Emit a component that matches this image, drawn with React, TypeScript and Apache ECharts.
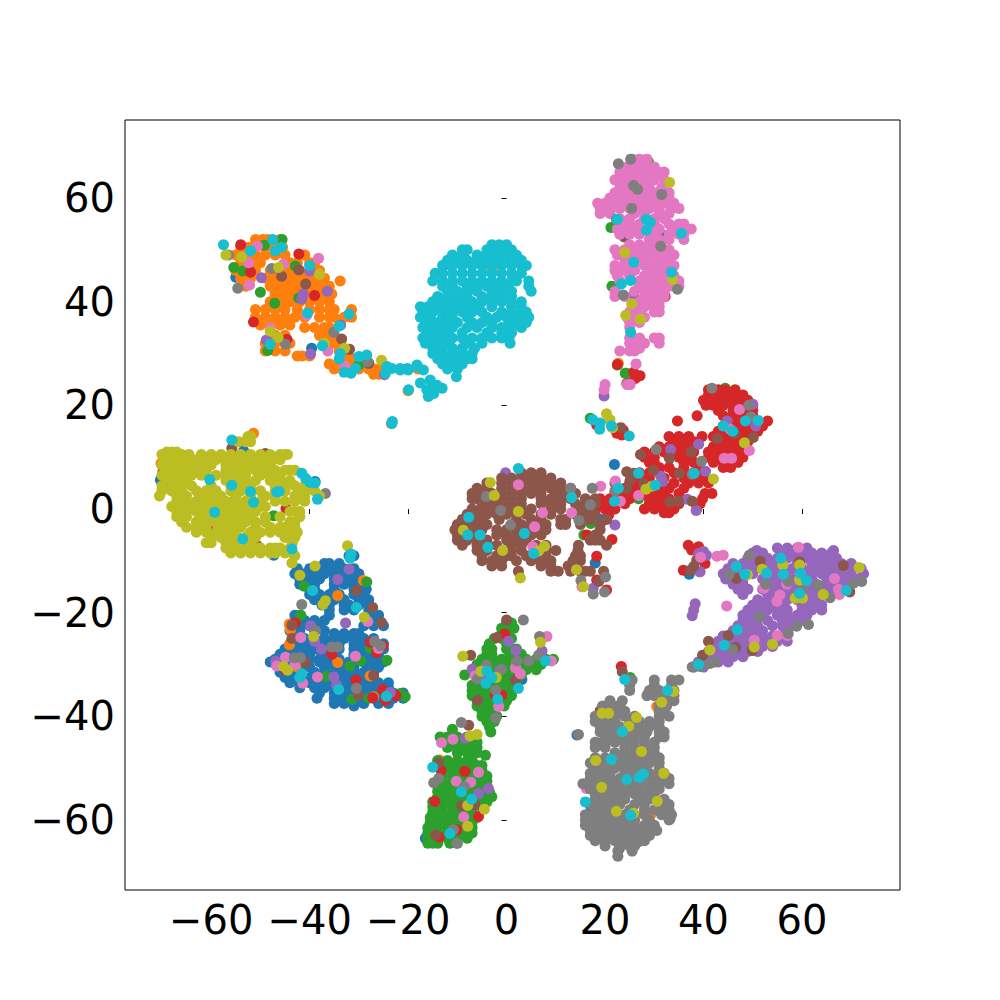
import React, { useEffect, useRef } from "react";
import * as echarts from "echarts";

type Rows = [number, number[]][];
type Pts = [number, number][];

const tickValues = [-60, -40, -20, 0, 20, 40, 60];
const colors = ["#1f77b4", "#ff7f0e", "#2ca02c", "#d62728", "#9467bd", "#8c564b", "#e377c2", "#7f7f7f", "#bcbd22", "#17becf"];

const blueRows: Rows = [
  [-9, [-32, -31]], [-10.5, [-37, -36, -34]], [-11.5, [-42.5, -40, -38, -36, -34, -33, -31]], [-12.5, [-43, -41, -39, -37, -35, -33, -31, -30]],
  [-13.5, [-42, -40, -38, -35, -32, -30]], [-14.5, [-42, -41, -39, -35, -33, -31, -30]], [-15.5, [-40, -39, -35, -31, -29, -28.5]],
  [-16.5, [-40, -38, -36, -34, -31, -29]], [-17.5, [-39, -37, -35, -33, -30, -28]], [-18.5, [-37.5, -36, -33, -32, -30, -28]],
  [-19.5, [-36, -33, -31, -28]], [-20.5, [-43, -42, -36, -28, -26]], [-21.5, [-43, -41, -39, -37, -28, -27, -26]], [-22.5, [-44, -42, -40, -38, -29, -27, -25]],
  [-23.5, [-44, -42, -39, -37]], [-24, [-35, -33, -31, -30]], [-25, [-43, -41, -39, -37, -35, -33, -31, -29, -27]],
  [-26, [-44, -42, -40, -38, -36, -34, -31, -29, -27, -25]], [-27, [-45, -43, -41, -39, -37, -34, -31, -29, -27, -25]],
  [-28, [-46, -44, -42, -40, -37.5, -31, -29, -27, -26]], [-29, [-47, -46, -44, -42, -40, -38, -36, -34, -31, -29, -27]],
  [-29.5, [-48, -46, -43, -41, -38, -36, -34, -32, -29, -27, -25]], [-30.5, [-46, -44, -42, -40, -37, -35, -33, -31, -28, -26]],
  [-31.5, [-46, -44, -42, -39, -37, -35, -33, -31, -29, -27]], [-32.5, [-45, -43, -40, -38, -36, -34, -32, -30, -28]],
  [-33.5, [-44, -42, -40, -38, -36, -34, -32, -30, -28, -26, -24]], [-34.5, [-42, -39, -37, -35, -33, -31, -29, -27, -24]],
  [-35.5, [-38, -35, -33, -31, -29, -27, -25, -23, -21]], [-36.5, [-38.5, -35, -33, -31, -29, -27, -25, -23, -21]],
  [-37.5, [-35, -33, -31, -29, -26, -24]], [-38, [-31]],
];
const blueExtra: Pts = [[-39.6, 31], [-55, 44.7], [-12.8, 47], [-3, 46.5], [32.2, 52.7], [21.9, 8.6], [18, -10.4], [37.1, -12.6], [19.2, -2], [3.1, -32.9], [-16.5, -63.5], [22.9, -65.5], [14.3, -43.6], [17.1, -57.4], [33.2, -59.7], [18.3, -53.6], [22.4, -38.1], [-53.4, 11.2], [-38.9, 5.3], [-70.3, 5.6], [-47.3, -8.9]];

const orangeRows: Rows = [
  [52, [-51, -49.5, -48.5, -46]], [50.5, [-54, -52.5, -51, -49, -47, -45.5]], [49, [-55, -53, -51, -49, -47, -45, -41]],
  [47.5, [-54, -52, -50, -44, -42.5, -40, -39]], [46, [-55, -53, -51, -48, -46, -44, -42, -40, -38]],
  [44.5, [-54, -52, -49, -47, -45, -43, -41, -39, -37]], [44, [-33.8]], [43, [-53, -48, -46, -44, -42, -40, -38, -36]],
  [41.5, [-47, -45, -43, -41, -39, -37, -35.5]], [40, [-48, -46, -44, -42, -40, -38, -36]], [38.5, [-51, -49, -47, -45, -42.5, -40, -38, -36, -35, -31.5]],
  [37, [-51, -49, -47, -45, -43, -41, -38, -36, -35, -33, -31.5]], [35.5, [-50, -48, -46, -44]], [35, [-41, -39, -37, -36]],
  [33.5, [-47, -45, -38, -36.5, -35]], [32, [-49, -47, -45, -44, -36, -35, -34]], [30.5, [-49, -47, -45, -34, -33]],
  [29.5, [-42.5, -41.5, -40]], [29, [-32, -31, -30, -29]], [28, [-36, -34, -31, -29, -28]], [27, [-35, -33, -30, -28, -27, -26, -20, -18]], [26, [-27, -26]],
];
const orangeExtra: Pts = [[-20, 22.8], [-23.4, 16.5], [-29.1, -13.8], [-34.3, -16.7], [-44.1, -22.2], [-43.9, -23.3], [-44.1, -26.2], [-34.3, -29.6], [-42.8, -30.4], [-27.7, -32.2], [-27, -36.2], [-13.6, -48.4], [30.5, -38.1], [22, -41], [29.5, -58.7], [46.4, -24.8], [30.5, 1.7], [22.7, 28.1], [-3, 46], [-51.4, 14.6], [-70.2, 8.8]];

const greenRows: Rows = [
  [-22, [0, 1]], [-23, [-1, 0.5, 1.5]], [-24, [-1, 0]], [-25, [-2.5, -1, 1]], [-26, [-3.5, 0]], [-27, [-4, -3, 0, 1, 2]], [-28, [-4, -3, 1, 2, 3]],
  [-29, [-5, -3, -1, 0, 3, 4, 6, 8, 9.5]], [-30, [-6, -4, -2, 0, 2, 4, 5, 7]], [-31, [-6, -4, -2, 0, 2, 4, 6]], [-32, [-8.5, -6, -4, -2, 0, 2, 3]],
  [-33, [-6, -4, -2, 0, 2]], [-34, [-7, -5, -3, -1, 1]], [-35, [-7, -5, -3, -1, 1]], [-36, [-7, -5, -3, -1, 1]], [-37, [-6, -4, -2, 0]], [-38, [-6, -4, -2, -0.5]],
  [-39, [-5, -3]], [-40, [-5, -3, -2]], [-41, [-4, -2.5]], [-42, [-3.5]], [-43, [-3.2]],
  [-42.5, [-11]], [-44, [-13.5, -12, -10, -8, -7]], [-45, [-13, -11, -9, -7, -6]], [-46, [-12, -10, -8, -6]], [-47, [-10, -8, -6]], [-47.5, [-4.3]],
  [-48.5, [-14, -12, -10, -8, -7]], [-49.5, [-14, -12, -10, -8, -6, -5]], [-50.5, [-13, -11, -9, -7, -5]], [-51.5, [-13, -11, -9, -7, -5, -4]],
  [-52.5, [-13, -11, -9, -7, -5, -4]], [-53.5, [-14, -12, -10, -8, -6, -4]], [-54.5, [-14, -12, -10, -8, -6, -4, -3.5]], [-55.5, [-14, -12, -10, -8, -6, -4, -3]],
  [-56.5, [-15, -13, -11, -9, -7, -5, -4]], [-57.5, [-15, -13, -11, -9, -7, -5]], [-58.5, [-15, -13, -11, -9, -7]], [-59.5, [-15.5, -14, -12, -10, -8, -6]],
  [-60.5, [-15.5, -14, -12, -10, -8, -7]], [-61.5, [-16, -14, -12, -10, -8, -7]], [-62.5, [-16, -14, -12, -10, -8, -7]], [-63.5, [-16, -14, -12, -10, -8]], [-64.5, [-16, -15, -14, -11.5, -10]],
];
const greenExtra: Pts = [[-45.6, 52], [-49.2, 50.9], [-55.4, 46.6], [-53.6, 45.9], [-42.9, 46.9], [-50, 41.8], [-47.1, 39.7], [-42.2, 40.7], [-48.5, 30.6], [-30, 27.8], [21.4, 43], [24.3, 26.2], [22.5, 27.8], [28.8, 67], [27.1, 37.9], [21.2, 54.3], [44.4, 23.3], [37.6, 9.4], [17, 17.5], [15.7, -5], [17.1, -2.8], [26.8, 2], [24.1, 26.2], [50.9, -11.4], [61.6, -14], [25.1, -32.5], [39, -29.5], [-47.3, -1.3], [-52.6, -5.3], [-41.1, -14.9], [-28.4, -14.1], [-41.8, -20.5], [-27.7, -26.9], [-24.3, -29.2], [-31.8, -30.3], [-29.6, -29.3], [-36.6, -32.3], [-31.4, -36.7], [-28, -36.5], [-21.6, -35.6], [-20.6, -36.2]];

const redRows: Rows = [
  [23, [41, 43, 44.4, 46.4]], [22, [41, 43, 45, 47, 48]], [21, [40, 42, 44, 46, 48, 49]], [20, [40.5, 42, 44, 46, 48, 50]], [19, [43, 46, 48, 50]], [18, [44, 46, 48, 50, 38.7]],
  [17, [34.7, 45, 47, 49, 51, 53]], [16, [44, 46, 48, 50, 52]], [15, [43, 45, 47, 49, 51]], [14, [33, 35, 37, 39.7, 42, 44, 46, 48, 50]], [13, [34, 36, 38, 43, 45, 47, 49]],
  [12, [31, 33, 35, 37, 38, 42, 44, 46, 48]], [11, [28, 30, 32, 34, 36, 38, 41, 43, 45, 47]], [10, [28, 30, 33, 35, 37, 41, 43, 45, 47, 48]], [9, [29, 30, 36, 38, 42, 44, 46, 47]],
  [8, [31, 33, 36, 39, 44, 45.5]], [7, [27, 29, 31, 34, 36, 38, 40]], [6, [27, 29, 32, 36, 38, 40]], [5, [25, 27, 29, 34, 37, 39, 41]], [4, [24, 26, 28, 31, 33, 36]],
  [3, [22, 24, 26, 28, 30, 32, 35, 40.3, 41.7]], [2, [19, 21, 23, 25, 29, 31, 33, 39.8]], [1, [17, 19, 21, 24, 29, 31, 33, 35, 39.3]], [0, [16, 18, 20, 22, 28, 30, 32, 34, 38.6]], [-0.7, [32, 33]],
];
const redExtra: Pts = [[18.3, 16.2], [22.4, 14.6], [23.4, 14.3], [23.7, 15.2], [20.7, -1.2], [21.4, -5.9], [16.3, -5], [18.3, -9.1], [18.3, -13.7], [20.3, -15.6], [17.3, -0.9], [36.9, -7], [39, -7.3], [35.9, -11.8], [37.6, -7.9], [38.6, -7.6], [40.3, -10.5], [26.4, 25.5], [25.8, 26.4], [27.1, 25.7], [26.1, 25.2], [22.5, 27.9], [32.2, 41], [-54, 51], [-42.2, 49.2], [-52, 45.7], [-39, 41.2], [-51.4, 36.1], [-44.6, 32.7], [-0.4, -24.1], [-2.3, -35.9], [-1, -35.9], [-8.5, -50.6], [-13.3, -50.5], [-14.6, -56.4], [-5.7, -59.3], [-10.1, -61.9], [-13.7, -63.3], [23.3, -30.4], [28.8, -35.6], [26.8, -51.6], [31.3, -57.8], [-44.8, 0.1], [-60.5, -4.1], [-54.8, 7], [-42.9, -22], [-35.5, -28], [-27.7, -25.7], [-26.4, -27.7], [-25.1, -26.4], [-30.6, -33], [-25.2, -34.8], [-27.2, -36.4], [-22.5, -36], [-24.6, -37], [-45, -31]];

const purpleRows: Rows = [
  [-7.5, [55, 57, 59, 61]], [-8, [50.8, 66.4]], [-8.5, [50, 52, 56, 58, 60, 62, 64, 66]], [-9.5, [49, 51, 53, 55, 57, 59, 61, 63, 65, 67]],
  [-10.5, [46, 48, 50, 52, 54, 56, 59, 62, 64, 66, 68, 70]], [-11.5, [45, 47, 49, 52, 54, 56, 58, 60, 62, 64, 66, 68, 70, 72]],
  [-12.5, [44, 46, 48, 50, 53, 55, 57, 60, 62, 64, 66, 68, 70, 72.5]], [-13.5, [44.5, 46, 48, 52, 54, 56, 58, 60, 62, 65, 67, 69, 71]],
  [-14.5, [46, 48, 53, 55, 57, 59, 61, 63, 65, 67, 69]], [-15.5, [47, 49, 52, 54, 56, 58, 60, 62, 64, 66]], [-16.5, [48, 53, 55, 57, 59, 61, 63, 65]],
  [-17.5, [51, 53, 55, 57, 59, 61, 63]], [-18.5, [50, 52, 54, 56, 60, 62, 64]], [-19.5, [49, 51, 53, 55, 57, 60, 62, 64]], [-20.5, [48, 50, 52, 55, 57, 59, 61]],
  [-21.5, [48, 50, 53, 56, 58, 60]], [-22.5, [47, 49, 51, 54, 56, 58]], [-23.5, [46, 48, 50, 52]], [-24.5, [44, 46, 48, 50, 52, 54, 56]],
  [-25.5, [43, 45, 47, 49, 51, 53, 55, 57]], [-26.5, [42, 44, 46, 48, 50, 52, 54]], [-27.5, [41, 43, 45, 47, 49, 51]], [-28.5, [40, 42, 44, 46, 48]],
  [-29.5, [39, 41, 43, 45]], [-30.5, [38, 40]],
];
const purpleExtra: Pts = [[38.3, -18.3], [38, -19.5], [37.7, -20.6], [39, -8.6], [40.6, -8.9], [39.3, -12.1], [-49.8, 44.6], [-40, 45.9], [-36.4, 42], [-41.3, 41.5], [-41.6, 40.5], [-48.8, 32.6], [-33.7, 35.5], [-39.8, 29.9], [-24.8, 25.9], [25.8, 41.3], [19.8, 21.8], [-0.2, 7], [39, 12.5], [33.3, 11.5], [31.3, 6.3], [31.7, 5.3], [40.4, 7.3], [36.7, 1.9], [38.5, -0.3], [50, 20.2], [44.8, 17], [50.6, 16], [22, -3.1], [17.6, -15.3], [39.2, -12.1], [40, -8.2], [0.4, -25.5], [1.9, -27.3], [-7, -30.9], [7.2, -27.4], [-1.4, -31.1], [-4.3, -33], [-8.4, -44.2], [-5.7, -54.9], [-3.7, -53.9], [21.4, -62.9], [26.8, -64.2], [-32, -11.6], [-34.3, -13.6], [-32.7, -22], [-39.8, -22.5], [-39, -25.5], [-37.6, -27], [-46.9, -29.3], [-35.1, -32.4], [-34.5, -34], [-23.6, -35.4]];

const brownRows: Rows = [
  [7, [3, 5, 7]], [6, [-1, 1, 3, 5, 7, 9]], [5, [-4, -1, 1, 3, 5, 7, 9, 11]], [4, [-6, -4, -1, 1, 3, 5, 7, 9, 11, 13]], [3, [-7, -5, -3, -1, 1, 3, 5, 7, 10, 12, 14]],
  [2, [-7, -6, -3, -1, 1, 3, 7, 9, 11, 13, 16, 18]], [1, [-5, -3, -1, 1, 3, 7, 9, 11, 14, 16, 18]], [0, [-7, -5, -3, -1, 1, 3, 5, 9, 11, 15, 17]],
  [-1, [-8, -6, -4, -2, 0, 2, 4, 7, 9, 14, 16, 18]], [-2, [-9, -7, -5, -1.5, 2, 5, 7, 11, 12, 15, 17, 20.3]], [-3, [-10, -8, -6, -4, 1, 3, 5, 7, 8, 11, 12, 15, 19]],
  [-4, [-10.5, -9, -7, -5, -2, 0, 2, 4, 6, 8, 19]], [-5, [-10, -8, -6, -2, 0, 2, 5, 7, 18]], [-6, [-10, -8, -6, -4, 0, 2, 4, 17, 18, 19]],
  [-7, [-9, -6, -4, -2, 1, 3, 6, 8, 14.6, 20.3]], [-8, [-6, -4, -1, 1, 3, 6, 8, 10, 14.5]], [-9, [-5, -2, 0, 1, 4, 6, 8, 14, 15]], [-10, [-5, -3, -1, 2, 5, 7, 9, 13.5, 15]],
  [-11, [-3, -1, 7, 9, 12.5, 14]], [-12, [9, 10.5, 13, 15, 16, 17, 2.4, 19.7]], [-14, [18.7]],
];
const brownExtra: Pts = [[27.2, 10.5], [33.1, 9.8], [37.5, 11], [29.8, 7.5], [35.1, 6.9], [24.4, 7.2], [25.8, 6.9], [25.1, 5.6], [22, 5], [24.4, 4], [27.8, 4.9], [33.2, 1.4], [34.9, 1.5], [37.7, 1.5], [42.8, 13.6], [46.4, 14.6], [50.1, 13.8], [23.2, 15.7], [24.7, 24.2], [38, -11.1], [38.6, -9.9], [37.3, -11.8], [24.4, 24.2], [23.9, 52.5], [-45.7, 44.9], [-42.2, 46.1], [-40.8, 43.4], [-33.5, 32.8], [-31.9, 30.8], [-28, 28.1], [51.5, -10.1], [59.5, -10.2], [68.4, -10.9], [46.7, -13.4], [69.7, -16], [45, -24.4], [41, -25.5], [46.5, -26.7], [49.9, -27.3], [39.8, -28.2], [0, -21.4], [-2, -24.8], [-7.3, -28.2], [1.8, -33], [-5.9, -36.9], [-7.7, -41.7], [-13.8, -49], [-9.1, -57.3], [-6.4, -57.1], [-14.4, -62.9], [23.5, -31.4], [19, -38.9], [18.3, -45.1], [-50.7, -7], [-49, 10.7], [-55.8, 11.7], [-69.8, 7.2], [-30.5, -15.7], [-27.2, -19], [-25.4, -21.9], [-43.6, -22.4], [-43.6, -25], [-40.8, -29.6], [-27, -32.1], [-30.1, -35.9]];

const pinkRows: Rows = [
  [67.5, [25.5, 27, 28.5]], [66, [24.5, 26, 28, 30]], [65, [23, 25, 27, 29, 31, 32]], [63.5, [22, 24, 26, 28, 30, 32]], [62, [23, 25, 27, 29, 31.5]], [61, [22, 24, 26, 28, 30, 33]],
  [60, [21, 23, 25, 27, 29, 31, 33]], [59, [18.5, 20, 22, 24, 26, 28, 30, 32, 34]], [58, [19, 21, 23, 25, 27, 29, 31, 33.5, 35]], [57, [19, 21, 26, 28, 31, 33]], [56, [23, 25, 28, 30, 32]],
  [55, [23, 25, 27, 30, 33, 35, 36]], [54, [22.5, 24, 26, 29, 31, 34, 36, 37.5]], [53, [23, 25, 27, 30, 33, 35, 36]], [52, [29, 31, 33, 36]], [51, [25, 27, 29, 31]],
  [50, [22, 24, 26, 28, 30, 32, 33]], [49, [22.5, 24.5, 26.5, 28, 30, 32, 34]], [48, [24, 26, 28, 30, 32, 33]], [47, [22, 24, 26, 28, 30, 32, 34]], [46, [22, 24, 26, 29, 31, 33]],
  [45, [22.5, 25, 28, 30, 32, 34]], [44, [23, 27, 29, 31, 33, 35]], [43, [27, 29, 31, 33, 35]], [42, [22, 26, 28, 30, 32]], [41, [22, 24, 28, 30, 32]], [40, [27, 29, 31]],
  [39, [26, 28, 30, 31]], [38, [25, 27, 30, 31]], [37, [24.5, 26, 28]], [36, [25, 27]], [35, [25]], [33, [25, 27, 30, 31]], [32, [25, 27, 28, 31]], [31, [26, 27]],
  [30.5, [23, 25, 26]], [28, [26.3]], [24, [24.5, 20, 25.1]], [23, [19.8]],
];
const pinkExtra: Pts = [[-50.6, 50.7], [-52.4, 47.5], [-45.3, 47.2], [-38.2, 48.4], [-52.2, 43.2], [-48, 34.9], [-36.3, 30.5], [-32.9, 27.5], [-40.6, 37.4], [2.4, 4.7], [7.3, -0.7], [13.2, -0.7], [5.7, -3.4], [5.3, -7.3], [19.1, 4.4], [22.1, 5.4], [26.8, 2.6], [23.1, 1.5], [47.3, 19.2], [49.3, 11.3], [44.2, 9.8], [45.7, 9.8], [45.4, 15.4], [15.3, -15], [39.4, -9.3], [42.7, -9.1], [44, -8.9], [59.3, -7.4], [44.7, -18.7], [66.6, -13.4], [67.4, -15.5], [67.6, -16.5], [55.5, -16.6], [54.9, -17.8], [56.9, -14.5], [52.2, -15.3], [50.3, -25.3], [55, -24.4], [57, -24.4], [8.2, -24.6], [1.8, -30.6], [2.8, -31.8], [9.1, -29.3], [-6.4, -32.2], [-1.6, -38.1], [-13.2, -45.1], [-10.9, -44.4], [-5.7, -50.8], [-10.2, -52.5], [-7.3, -52.7], [-8.7, -59.4], [16.2, -53.9], [-28.2, -21.7], [-41.8, -24.8], [-30.7, -28.4], [-44.9, -28.6], [-46.7, -30.3], [-43, -30], [-26, -26.9], [-38.4, -32.4], [-41.4, -33.6]];

const grayRows: Rows = [
  [-33, [24.5, 25.5, 30, 33.5, 35]], [-34, [25, 30, 33.5]], [-35, [25, 29, 31, 33, 34]], [-36, [28.5, 30, 32, 34]], [-37, [21, 23.5, 33, 34]], [-38, [19.5, 21, 23, 31, 32.5]],
  [-39, [20, 22, 24, 31, 32]], [-40, [18, 20, 22, 24, 26, 31, 33]], [-41, [18, 20, 22, 25, 27, 29, 31]], [-42, [19, 21, 23, 25, 27, 29, 31]], [-43, [19, 21, 23, 25, 27, 28.5, 31, 32]],
  [-43.5, [14.6]], [-44, [20, 22, 24, 26, 28, 31, 32]], [-45, [18, 20, 22, 24, 26, 28, 30]], [-46, [18, 20, 24, 26, 28, 30]], [-47, [22, 24, 26, 28, 30]], [-48, [18, 20, 22, 24, 26, 28, 30, 31]],
  [-49, [17, 19, 21, 23, 25, 27, 29, 31]], [-50, [18, 20, 22, 24, 26, 28, 31]], [-51, [17, 19, 21, 24, 26, 29, 31, 32]], [-52, [17, 19, 21, 23, 25, 27, 29, 31, 33]],
  [-53, [15.5, 17, 19, 21, 23, 25, 27, 29, 31, 33]], [-54, [17, 19, 21, 23, 25, 27, 29, 31]], [-55, [18, 20, 22, 24, 26, 28, 30]], [-56, [18, 20, 22, 24, 27, 29, 32]],
  [-57, [17, 19, 21, 23, 26, 28, 31, 33]], [-58, [18, 20, 22, 25, 28, 30, 32, 33]], [-59, [16, 18, 20, 22, 24, 26, 28, 31.5, 33.5]], [-60, [16, 18, 20, 22, 24, 26, 29, 33]],
  [-61, [16, 18, 20, 22, 24, 26, 28, 30]], [-62, [17, 19, 21, 23, 25, 27, 29, 30.5]], [-63, [17, 19, 21, 23, 25, 27, 29]], [-64, [18, 20, 22, 24, 26, 28]], [-65, [20, 23, 25, 26]],
  [-66, [22.6, 25.5]], [-67, [22.6]],
];
const grayExtra: Pts = [[-54.6, 42.6], [-47.7, 46.4], [-44.9, 31.8], [-35.1, 34.1], [-28.2, 28.4], [-56.5, 49], [22.7, 66.6], [25.2, 67.5], [25.8, 62.4], [26.6, 61.7], [31.5, 60.7], [25.4, 58], [22.3, 55.9], [31.3, 50.7], [23.7, 41.3], [34.7, 42.4], [-4.1, 2.4], [-1.2, -0.3], [0.8, -3.1], [13, 4], [17.4, 4], [17, 0.8], [14.7, -2.2], [20.1, -13.1], [15.1, -13.8], [17.6, -16.4], [19.9, -16], [30.4, 11.5], [39.6, 9.2], [22, 3.5], [41.7, 23.3], [49.2, 20], [49.6, 17.8], [37.7, 6.7], [49.3, -8.9], [45.2, -12.6], [52.6, -14.5], [57.2, -14], [63.3, -14.7], [70.4, -14.3], [72.1, -14], [65.7, -17.1], [60.1, -15.3], [51.3, -20.9], [58.9, -22.6], [61.3, -22.3], [57.2, -24], [45.9, -27.1], [42.3, -29.5], [41.3, -29.8], [37.7, -30.5], [39.3, -30.4], [3.4, -21.4], [6.7, -24.6], [4.5, -29.3], [2.1, -29.3], [6.5, -28.2], [-4.1, -30.1], [-1, -30.9], [-5.9, -32.8], [-2.2, -34.9], [-2.2, -40.3], [-9.2, -41.2], [-14.8, -52.8], [-13.8, -52], [-8.6, -53.6], [-10.8, -61.9], [-10.1, -64.5], [-55.4, 1.4], [-36.8, 3], [-41.6, -18.4], [-38.8, -23.5], [-35.5, -26.6], [-34.3, -26.6], [-43.1, -28.7], [-41.9, -28.7], [-26.8, -25.5], [-25.6, -26.4], [-30.5, -34.6]];

const oliveRows: Rows = [
  [14, [-52.5, -52]], [13, [-54.5, -53, -52]], [11, [-69, -68, -67]], [10.5, [-70, -68, -66, -64.5, -62, -60, -58, -56, -54, -52, -50, -48, -46, -45, -44.5]],
  [9.5, [-69, -67, -65, -63, -61, -59, -57, -55, -53, -51, -49, -47.5, -46]], [8.5, [-70, -68, -66, -64, -62, -60, -57, -55, -53, -51, -50, -48]],
  [7.5, [-69, -67, -65, -63, -61, -57, -55, -53, -51, -49, -47, -45, -44, -43]], [6.5, [-70, -68, -66, -64, -62, -59, -57, -55, -53, -50, -48, -46]],
  [5.5, [-69, -67, -65, -57, -55, -53, -51, -48, -46, -44]], [4.5, [-70, -68, -66, -64, -60, -56, -54, -52, -47, -45, -43, -41, -40]],
  [3.5, [-70, -68, -66, -63, -61, -59, -56, -54, -50, -47, -45, -42, -41, -39]], [2.5, [-70.5, -67, -65, -62, -60, -58, -55, -52, -49, -47, -43, -41, -38]],
  [1.5, [-67, -65, -63, -61, -59, -57, -55, -53, -50, -47, -45, -43, -41]], [0.5, [-68, -66, -64, -62, -60, -58, -56, -54, -52, -50, -49]],
  [-0.5, [-67, -65, -63, -61, -59, -57, -55, -53, -51, -44, -43, -42]], [-1.5, [-67, -65, -62, -60, -58, -56, -54, -52, -49, -46, -42]],
  [-2.5, [-66, -63, -61, -59, -57, -55, -53, -51, -49, -44, -43]], [-3.5, [-65, -63, -61, -58, -56, -54, -51, -48, -46, -45, -44, -43]],
  [-4.5, [-63, -61, -59, -57, -55, -52, -50, -48, -46, -44.5, -42.5]], [-5.5, [-60, -58, -56, -53, -51, -45, -44, -43]], [-6.5, [-61, -60, -57, -55, -52, -43.5]],
  [-7.5, [-57, -55, -53, -51, -50, -48, -47, -46, -44]], [-8.5, [-56, -54, -52, -50, -48, -47, -45, -43.5]], [-9, [-43]], [-10.4, [-43.6]],
];
const oliveExtra: Pts = [[-57, 49], [-53.8, 48.6], [-46.3, 46.6], [-38, 45.3], [-48, 34.3], [-46.4, 33.1], [-37, 32], [-32.9, 31], [-25.4, 28.7], [33.1, 63], [24, 49.5], [33.7, 44.3], [25.4, 39.6], [24.2, 37.4], [27.2, 36.6], [-3.3, 5.1], [-2.5, 2.6], [2.4, -0.5], [-8.8, -4.1], [-0.8, -8], [7.7, -7.2], [6.5, -8.1], [2.8, -13.3], [14.2, -11.7], [15.6, -15], [28.3, 3.8], [29.5, 4.4], [42, 5.8], [48.3, 12.8], [20.3, 18.4], [21, 17.2], [21.5, 15.7], [56.1, -10.8], [59.5, -10.8], [71.6, -11.3], [59.5, -13.7], [48.9, -12.7], [51.9, -11.6], [64.3, -16.5], [58.6, -17.2], [60.1, -17.2], [41.3, -27.2], [50.3, -26.6], [54, -26.1], [-8.9, -28.4], [6.9, -25.7], [-5.2, -31.3], [-2.1, -32.5], [-7.4, -43.8], [-6, -43.5], [-7.9, -57.2], [-4.5, -57.9], [-7.9, -61.2], [19.4, -39.4], [20.7, -39.4], [26.4, -40.2], [24.8, -41.9], [33.9, -35.2], [31.5, -37.3], [27.4, -46.8], [18.1, -48.5], [31.9, -51], [19.3, -53.7], [30.6, -56.4], [22.3, -58.3], [25.8, -58.7], [-32.3, -7.1], [-38.9, -11], [-42, -12.8], [-36.8, -17.7], [-37.3, -18.4], [-28.9, -20.9], [-39.2, -24.6], [-45.3, -30.4], [-44.5, -31.1]];

const cyanRows: Rows = [
  [51, [-3, -1.5, 0]], [50, [-9, -8, -4, -2, 0, 1]], [49, [-11, -9, -6, -4, -2, 0, 2]], [48, [-12, -10, -8, -6, -4, -2, 0, 2, 3]], [47, [-13, -11, -9, -7, -5, -3, -1, 1, 3, 4]],
  [45.5, [-14.5, -13, -11, -9, -7, -5, -3, -1, 1, 3]], [44, [-15, -13, -11, -9, -7, -5, -3, -1, 1, 2, 4.5]], [43, [-13, -11, -8, -6, -4, -2, 0, 4.5]], [42, [-12, -10, -8, -6, -3, -1, 1, 5]],
  [41, [-14, -12, -10, -8, -5, -3, -1, 1]], [40, [-15, -13, -11, -9, -7, -5, -3, -1, 1, 3]], [39, [-17.5, -16, -14, -12, -10, -8, -6, -3, 1, 3]],
  [38, [-17, -15, -13, -11, -9, -7, -5, -1, 1, 3, 4]], [37, [-17.5, -15.5, -13, -11, -8, -4, -2, 0, 2, 3.5, 4.5]], [36, [-16.5, -14, -12, -10, -7, -5, -3, 0.5, 2, 4]],
  [35, [-17, -15, -13, -11, -8, -6, -3, -1, 1, 3]], [34, [-16, -14, -12, -9, -4, -1, 1]], [33, [-17, -15, -13, -11, -9, -7, -5, -3, -1, 0.5]], [32, [-16.5, -14, -12, -8, -5, 0.7]],
  [31, [-15, -13, -11, -9, -6.5]], [30, [-15, -13, -11, -9, -7]], [29, [-14, -12, -10, -8, -7]], [28, [-13, -11, -9]], [27, [-12, -10]], [25.5, [-10.2]],
];
const cyanExtra: Pts = [[-20.2, 27.1], [-18.2, 27.5], [-16.9, 26.8], [-17.5, 24.3], [-15.5, 24.9], [-16.2, 23], [-14.2, 23.9], [-13.1, 23.3], [-19.9, 23], [-21.6, 27.1], [-24.3, 27.5], [-23.3, 27.1], [-24.6, 26.2], [-21.6, 26.8], [-20, 26.8], [-18.2, 27.8], [-14.5, 23.6], [-14.8, 22.3], [-15.9, 21.7], [-23.3, 16.5], [-23.2, 16.9], [-57.5, 51], [-47.5, 52], [-45.7, 50.5], [-47, 49.8], [-52, 49.8], [-40, 47], [-32, 37.6], [-40.4, 37.8], [-34, 35.3], [-48, 31.8], [-37.4, 31.5], [-33.8, 30], [-34, 29], [-30, 29.4], [-28.4, 29.7], [-30.7, 27.1], [-33, 26.4], [-31.6, 26.2], [22.5, 55.9], [28.4, 55.9], [29.2, 55.3], [28.4, 53.8], [35.5, 53.2], [25.8, 47.6], [33.5, 45.7], [25.2, 44.1], [23.3, 43.4], [25.2, 34.1], [2.4, 7.8], [13.2, 2.2], [-7.7, -1.6], [-7.9, -5], [-5.4, -5], [-3.8, -7.4], [3.6, -4.7], [5.5, -8.6], [22.7, 4], [21.9, 1.5], [26.8, 6.9], [30.2, 4.6], [38.1, 6.9], [44, 16], [45.9, 15], [48.5, 17], [51.1, 17.1], [17.5, 17.2], [19, 16.6], [18.9, 15.4], [21.3, 16], [24.9, 14.1], [55.7, -9.5], [46.7, -11.1], [48.4, -12.6], [52.8, -12.4], [56.2, -12.6], [59.7, -12.4], [60.9, -13.8], [59.5, -16.3], [69, -15.7], [46.9, -23.3], [44.2, -26.3], [39, -30], [7.9, -29.3], [-4, -31.3], [-3, -32.5], [-4.2, -33.6], [2.4, -34.6], [-1.8, -36.7], [-15, -49.8], [-9.2, -54.6], [-7.1, -56], [-11.5, -62.6], [23.5, -42.9], [21.3, -48.3], [24.4, -52.2], [26.9, -51.8], [27.8, -51.1], [16, -56.5], [25.2, -59.1], [32.7, -35], [24, -32.9], [-55.8, 13.3], [-60.3, 5.7], [-55.8, 4.6], [-52, 3.4], [-46.7, 3.3], [-46.2, 3.4], [-51.4, 1.3], [-59.3, -0.6], [-53.6, -5.8], [-43.6, -7.7], [-41.6, 6.9], [-40.8, 5.9], [-39.9, 5.1], [-38.9, 5], [-38.4, 1.9], [-31.6, -8.7], [-31.8, -9.5], [-39.4, -15.7], [-30.5, -19], [-41.6, -31.8], [-42, -32.5], [-34.1, -34.8], [-24.4, -36.1]];

const expand = (rows: Rows, extra: Pts): Pts => [
  ...rows.flatMap(([y, xs]) => xs.map((x) => [x, y] as [number, number])),
  ...extra,
];

const seriesData: Pts[] = [
  expand(blueRows, blueExtra), expand(orangeRows, orangeExtra), expand(greenRows, greenExtra), expand(redRows, redExtra),
  expand(purpleRows, purpleExtra), expand(brownRows, brownExtra), expand(pinkRows, pinkExtra), expand(grayRows, grayExtra),
  expand(oliveRows, oliveExtra), expand(cyanRows, cyanExtra),
];

const fmt = (v: number) => (v < 0 ? "\u2212" + Math.abs(v) : String(v));
const FONT = "DejaVu Sans";

export default function App() {
  const ref = useRef<HTMLDivElement>(null);
  useEffect(() => {
    const chart = echarts.init(ref.current!, undefined, { renderer: "svg" });
    const axis = {
      type: "value" as const,
      splitLine: { show: false },
      axisLine: { show: false },
      axisTick: { show: true, customValues: tickValues, length: 5, lineStyle: { color: "#000", width: 1 } },
    };
    chart.setOption({
      animation: false,
      backgroundColor: "#fff",
      grid: { show: true, left: 125, right: 100, top: 120, bottom: 110, borderColor: "#000", borderWidth: 1, backgroundColor: "transparent" },
      xAxis: {
        ...axis, min: -77.5, max: 79.9,
        axisLabel: { customValues: tickValues, formatter: fmt, fontFamily: FONT, fontSize: 40, color: "#000", margin: 10 },
      },
      yAxis: {
        ...axis, min: -73.5, max: 75.05,
        axisLabel: { customValues: tickValues, formatter: fmt, fontFamily: FONT, fontSize: 40, color: "#000", margin: 10 },
      },
      series: seriesData.map((data, i) => ({
        type: "scatter", data, symbol: "circle", symbolSize: 11, silent: true,
        itemStyle: { color: colors[i], opacity: 1 },
      })),
    });
    return () => chart.dispose();
  }, []);
  return <div ref={ref} style={{ position: "fixed", left: 0, top: 0, width: 1000, height: 1000 }} />;
}
